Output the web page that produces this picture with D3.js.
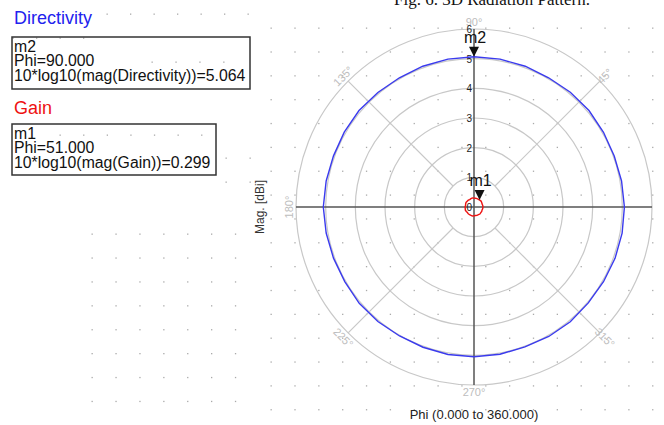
<!DOCTYPE html>
<html>
<head>
<meta charset="utf-8">
<script src="https://cdn.jsdelivr.net/npm/d3@7"></script>
<style>
  body { margin: 0; background: #fff; }
  svg { display: block; font-family: "Liberation Sans", Arial, sans-serif; }
</style>
</head>
<body>
<div id="chart"></div>
<script>
// Phi sampled every 10 degrees, 0..360
const phiDeg = d3.range(0, 361, 10);
const directivity = [5.07, 5.05, 5.03, 5.04, 5.06, 5.05, 5.03, 5.05, 5.06, 5.064,
  5.06, 5.05, 5.03, 5.04, 5.06, 5.05, 5.04, 5.06, 5.08, 5.06, 5.04, 5.03, 5.05, 5.04,
  5.02, 5.03, 5.05, 5.05, 5.04, 5.02, 5.04, 5.05, 5.03, 5.04, 5.06, 5.07, 5.07];
const gain = [0.30, 0.30, 0.29, 0.30, 0.31, 0.30, 0.299, 0.30, 0.30, 0.30,
  0.31, 0.30, 0.29, 0.30, 0.30, 0.31, 0.30, 0.29, 0.30, 0.30, 0.31, 0.30, 0.29, 0.30,
  0.30, 0.30, 0.31, 0.30, 0.29, 0.30, 0.30, 0.31, 0.30, 0.30, 0.29, 0.30, 0.30];
const magTicks = [0, 1, 2, 3, 4, 5, 6];
const spokeAngles = [45, 135, 225, 315];
const markers = [
  { name: "m2", phi: 90, value: 5.064, expr: "10*log10(mag(Directivity))=5.064" },
  { name: "m1", phi: 51, value: 0.299, expr: "10*log10(mag(Gain))=0.299" }
];

const width = 664, height = 425;
const cx = 474, cy = 207, outerR = 178;

const svg = d3.select("#chart").append("svg")
  .attr("width", width)
  .attr("height", height);

// cut-off caption at the top
svg.append("text")
  .attr("x", 492).attr("y", 5)
  .attr("text-anchor", "middle")
  .attr("font-family", "Liberation Serif, serif")
  .attr("font-size", 17)
  .attr("fill", "#111")
  .text("Fig. 6. 3D Radiation Pattern.");

// background dot grids
function dots(x0, y0, nx, ny, step) {
  const pts = [];
  d3.range(ny).forEach(j => d3.range(nx).forEach(i => pts.push([x0 + i * step, y0 + j * step])));
  svg.append("g").selectAll("rect").data(pts).enter().append("rect")
    .attr("x", d => d[0] - 0.5).attr("y", d => d[1] - 0.5)
    .attr("width", 1.3).attr("height", 1.3)
    .attr("fill", "#aaa");
}
dots(271, 28, 17, 17, 23.85);   // plot area
dots(92, 234, 7, 8, 23.9);      // lower left area
dots(107, 14, 7, 1, 23.5);      // beside "Directivity"
dots(13, 38, 4, 1, 23.5);
dots(152, 62, 4, 1, 23.9);
dots(60, 135, 7, 1, 23.6);
dots(226, 158, 2, 2, 24);

// legend blocks
const legend = [
  { title: "Directivity", color: "#2222ee", ty: 24, box: [12, 37, 238, 52], m: markers[0] },
  { title: "Gain", color: "#ee1111", ty: 114, box: [12, 124, 204, 51], m: markers[1] }
];
legend.forEach(l => {
  svg.append("text")
    .attr("x", 14).attr("y", l.ty)
    .attr("font-size", 18)
    .attr("fill", l.color)
    .text(l.title);
  svg.append("rect")
    .attr("x", l.box[0]).attr("y", l.box[1])
    .attr("width", l.box[2]).attr("height", l.box[3])
    .attr("fill", "none")
    .attr("stroke", "#333")
    .attr("stroke-width", 1.5);
  const lines = [l.m.name, "Phi=" + l.m.phi.toFixed(3), l.m.expr];
  svg.append("g").selectAll("text").data(lines).enter().append("text")
    .attr("x", l.box[0] + 2)
    .attr("y", (d, i) => l.box[1] + 15 + i * 14.3)
    .attr("font-size", 15.8)
    .attr("fill", "#111")
    .text(d => d);
});

// polar scales
const r = d3.scaleLinear().domain([0, 6]).range([0, outerR]);
const toRad = d => (90 - d) * Math.PI / 180;

const g = svg.append("g").attr("transform", `translate(${cx},${cy})`);

// rings
g.selectAll(".ring").data(magTicks.slice(1)).enter().append("circle")
  .attr("class", "ring")
  .attr("r", d => r(d))
  .attr("fill", "none")
  .attr("stroke", "#c8c8c8")
  .attr("stroke-width", 1.2);

// diagonal spokes
g.selectAll(".spoke").data(spokeAngles).enter().append("line")
  .attr("x1", d => r(1) * Math.cos(d * Math.PI / 180))
  .attr("y1", d => -r(1) * Math.sin(d * Math.PI / 180))
  .attr("x2", d => r(6) * Math.cos(d * Math.PI / 180))
  .attr("y2", d => -r(6) * Math.sin(d * Math.PI / 180))
  .attr("stroke", "#c8c8c8")
  .attr("stroke-width", 1.2);

// main axes
g.append("line").attr("x1", -r(6)).attr("x2", r(6)).attr("y1", 0).attr("y2", 0)
  .attr("stroke", "#555").attr("stroke-width", 1.5);
g.append("line").attr("y1", -r(6)).attr("y2", r(6)).attr("x1", 0).attr("x2", 0)
  .attr("stroke", "#555").attr("stroke-width", 1.5);

// angle labels
const angLabels = [
  { a: 90, t: "90°", rot: 0 }, { a: 270, t: "270°", rot: 0 }, { a: 180, t: "180°", rot: -90 },
  { a: 45, t: "45°", rot: -45 }, { a: 135, t: "135°", rot: -45 },
  { a: 225, t: "225°", rot: 45 }, { a: 315, t: "315°", rot: 45 }
];
g.selectAll(".ang").data(angLabels).enter().append("text")
  .attr("transform", d => {
    const rr = r(6) + 7;
    const x = rr * Math.cos(d.a * Math.PI / 180), y = -rr * Math.sin(d.a * Math.PI / 180);
    return `translate(${x},${y}) rotate(${d.rot})`;
  })
  .attr("text-anchor", "middle")
  .attr("dy", "0.35em")
  .attr("font-size", 11)
  .attr("fill", "#bdbdbd")
  .text(d => d.t);

// radial tick labels
g.selectAll(".tick").data(magTicks).enter().append("text")
  .attr("x", -2)
  .attr("y", d => -r(d) + 4)
  .attr("text-anchor", "end")
  .attr("font-size", 10)
  .attr("fill", "#222")
  .text(d => d);

// traces
const radial = d3.lineRadial()
  .angle(d => toRad(d[0]))
  .radius(d => r(d[1]));

g.append("path")
  .datum(phiDeg.map((p, i) => [p, directivity[i]]))
  .attr("d", radial)
  .attr("fill", "none")
  .attr("stroke", "#3a3aee")
  .attr("stroke-width", 1.4);

g.append("path")
  .datum(phiDeg.map((p, i) => [p, gain[i]]))
  .attr("d", radial)
  .attr("fill", "none")
  .attr("stroke", "#ee1111")
  .attr("stroke-width", 1.4);

// markers
markers.forEach(m => {
  const a = m.phi * Math.PI / 180;
  const x = r(m.value) * Math.cos(a), y = -r(m.value) * Math.sin(a);
  g.append("path")
    .attr("d", `M${x},${y} L${x - 5},${y - 10} L${x + 5},${y - 10} Z`)
    .attr("fill", "#111");
  g.append("text")
    .attr("x", x + 1).attr("y", y - 14)
    .attr("text-anchor", "middle")
    .attr("font-size", 16)
    .attr("fill", "#111")
    .text(m.name);
});

// axis titles
svg.append("text")
  .attr("transform", `translate(264,${cy}) rotate(-90)`)
  .attr("text-anchor", "middle")
  .attr("font-size", 12)
  .attr("fill", "#333")
  .text("Mag. [dBi]");
svg.append("text")
  .attr("x", cx).attr("y", 419)
  .attr("text-anchor", "middle")
  .attr("font-size", 13)
  .attr("fill", "#222")
  .text("Phi (0.000 to 360.000)");
</script>
</body>
</html>
